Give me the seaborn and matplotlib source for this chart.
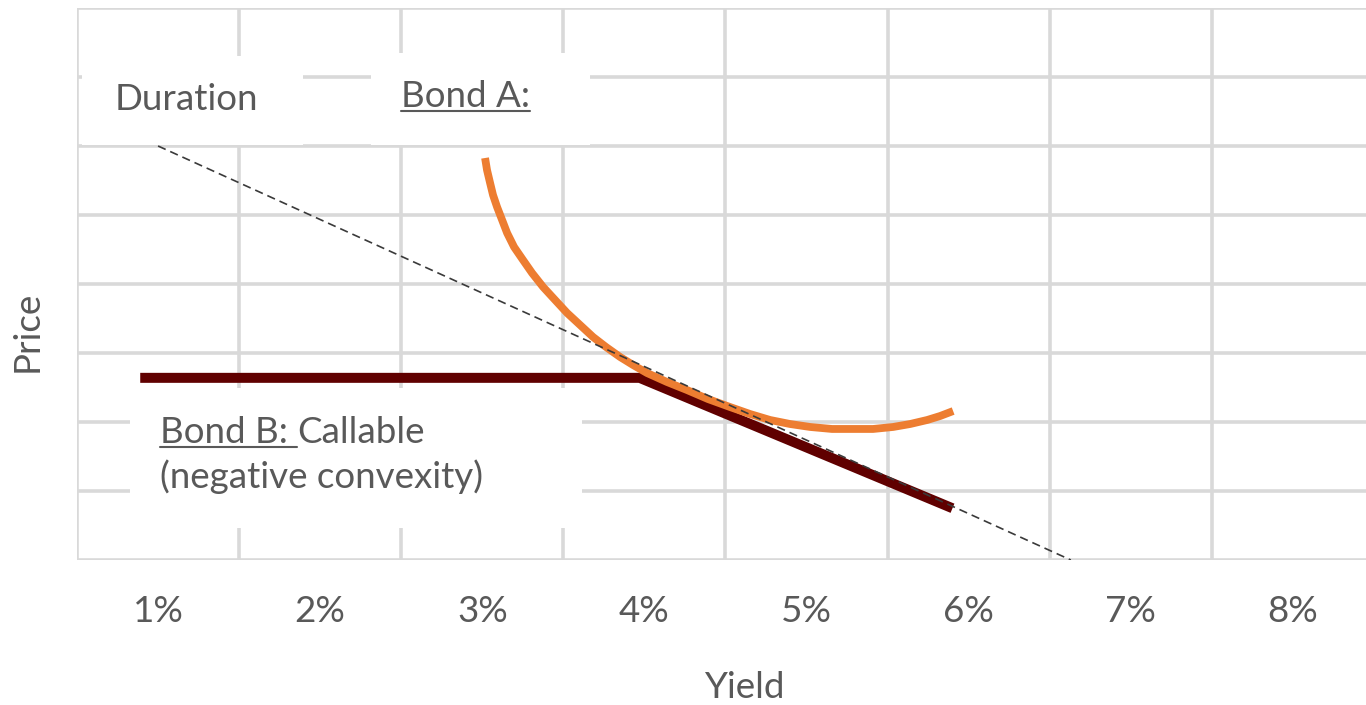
import matplotlib
matplotlib.use("Agg")
import matplotlib.pyplot as plt
from matplotlib.patches import Rectangle
from matplotlib.lines import Line2D
import pandas as pd
import seaborn as sns

# ---- data -------------------------------------------------------------
yield_ticks = [1, 2, 3, 4, 5, 6, 7, 8]
yield_labels = ["1%", "2%", "3%", "4%", "5%", "6%", "7%", "8%"]

# Bond A: plain bond, positive convexity
bond_a_yield = [3.017, 3.029, 3.048, 3.066, 3.091, 3.122, 3.153, 3.196, 3.251,
                3.307, 3.375, 3.449, 3.523, 3.603, 3.683, 3.763, 3.850, 3.930,
                4.016, 4.139, 4.262, 4.392, 4.528, 4.651, 4.775, 4.898, 5.022,
                5.157, 5.287, 5.410, 5.534, 5.639, 5.744, 5.824, 5.904]
bond_a_price = [5.826, 5.652, 5.464, 5.290, 5.116, 4.928, 4.739, 4.536, 4.348,
                4.159, 3.957, 3.768, 3.580, 3.406, 3.232, 3.087, 2.942, 2.826,
                2.710, 2.580, 2.464, 2.333, 2.217, 2.116, 2.029, 1.971, 1.928,
                1.899, 1.899, 1.899, 1.928, 1.971, 2.029, 2.087, 2.159]

# Bond B: callable bond, price capped below the call yield
bond_b_yield = [0.89, 3.97, 5.90]
bond_b_price = [2.64, 2.64, 0.75]

# Duration: linear price approximation
duration_yield = [1.0, 6.63]
duration_price = [6.0, 0.0]

# ---- style ------------------------------------------------------------
sns.set_theme(style="white")
plt.rcParams["font.family"] = ["Lato", "DejaVu Sans"]
TEXT = "#595959"
GRID = "#D9D9D9"
ORANGE = "#ED7D31"
MAROON = "#600000"
FS = 26.5

W, H = 1366, 705
fig = plt.figure(figsize=(W / 100, H / 100), dpi=100)
ax = fig.add_axes([77 / W, (705 - 560) / H, 1297 / W, 552 / H])
ax.set_xlim(0.5, 8.5)
ax.set_ylim(0, 8)

# category gridlines
ax.set_xticks([t + 0.5 for t in [0] + yield_ticks], minor=False)
ax.set_yticks(range(0, 9))
ax.grid(True, color=GRID, linewidth=2.6)
ax.set_axisbelow(True)
ax.tick_params(axis="both", length=0, labelleft=False, labelbottom=False)
for s in ax.spines.values():
    s.set_visible(False)

# tick labels centred in each category
for t, lab in zip(yield_ticks, yield_labels):
    ax.annotate(lab, xy=(t, 0), xycoords="data", xytext=(0, -51),
                textcoords="offset pixels", ha="center", va="center",
                fontsize=FS, color=TEXT)

# white backgrounds behind the text boxes
for (x0, y0, x1, y1) in [(0.531, 6.01, 1.894, 7.30),
                         (2.314, 6.01, 3.665, 7.35),
                         (0.827, 0.464, 3.615, 2.493)]:
    ax.add_patch(Rectangle((x0, y0), x1 - x0, y1 - y0, facecolor="white",
                           edgecolor="none", zorder=1))

# ---- series -----------------------------------------------------------
df_dur = pd.DataFrame({"Yield": duration_yield, "Price": duration_price})
df_a = pd.DataFrame({"Yield": bond_a_yield, "Price": bond_a_price})
df_b = pd.DataFrame({"Yield": bond_b_yield, "Price": bond_b_price})

sns.lineplot(data=df_b, x="Yield", y="Price", ax=ax, sort=False, estimator=None,
             color=MAROON, linewidth=7.2, zorder=3,
             solid_capstyle="butt", solid_joinstyle="miter")
sns.lineplot(data=df_a, x="Yield", y="Price", ax=ax, sort=False, estimator=None,
             color=ORANGE, linewidth=5.6, zorder=4,
             solid_capstyle="butt", solid_joinstyle="round")
sns.lineplot(data=df_dur, x="Yield", y="Price", ax=ax, sort=False, estimator=None,
             color="#3A3A3A", linewidth=1.2, linestyle=(0, (5, 3)), zorder=5)
ax.set_xlabel("")
ax.set_ylabel("")

# ---- annotations ------------------------------------------------------
ax.text(0.734, 6.522, "Duration", fontsize=FS, color=TEXT, va="baseline",
        ha="left", zorder=6)
t_a = ax.text(2.499, 6.565, "Bond A:", fontsize=FS, color=TEXT, va="baseline",
              ha="left", zorder=6)
t_b = ax.text(1.012, 1.696, "Bond B: ", fontsize=FS, color=TEXT, va="baseline",
              ha="left", zorder=6)
ax.text(1.012, 1.043, "(negative convexity)", fontsize=FS, color=TEXT,
        va="baseline", ha="left", zorder=6)

fig.text(744 / W, 1 - 688 / H, "Yield", fontsize=FS, color=TEXT,
         ha="center", va="center")
fig.text(27 / W, 1 - 331 / H, "Price", fontsize=FS, color=TEXT,
         ha="center", va="center", rotation=90)

fig.canvas.draw()
renderer = fig.canvas.get_renderer()


def underline(t):
    bb = t.get_window_extent(renderer)
    _, yb = ax.transData.transform(t.get_position())
    y = yb - 4
    fig.add_artist(Line2D([bb.x0, bb.x1], [y, y], transform=None, color=TEXT,
                          linewidth=1.5, zorder=7))
    return bb


underline(t_a)
bb_b = underline(t_b)
# continue the first Bond B line after the underlined part
yb_disp = ax.transData.transform(t_b.get_position())[1]
xb, yb = ax.transData.inverted().transform((bb_b.x1, yb_disp))
ax.text(xb, yb, "Callable", fontsize=FS, color=TEXT, va="baseline",
        ha="left", zorder=6)

fig.savefig("out.png", dpi=100, facecolor="white")
